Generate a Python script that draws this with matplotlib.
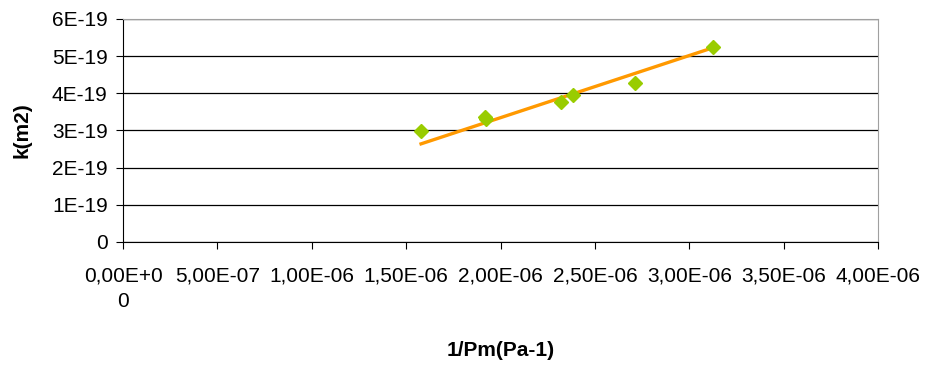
import numpy as np
import matplotlib.pyplot as plt

plt.rcParams['font.family'] = ['Liberation Sans', 'DejaVu Sans']

# data
inv_pm = [1.579e-6, 1.918e-6, 1.922e-6, 2.320e-6, 2.386e-6, 2.713e-6, 3.127e-6]
k_m2 = [2.99e-19, 3.36e-19, 3.31e-19, 3.77e-19, 3.955e-19, 4.27e-19, 5.24e-19]
x_ticks = [0, 5e-7, 1e-6, 1.5e-6, 2e-6, 2.5e-6, 3e-6, 3.5e-6, 4e-6]
x_labels = ['0,00E+0\n0', '5,00E-07', '1,00E-06', '1,50E-06', '2,00E-06',
            '2,50E-06', '3,00E-06', '3,50E-06', '4,00E-06']
y_ticks = [0, 1e-19, 2e-19, 3e-19, 4e-19, 5e-19, 6e-19]
y_labels = ['0', '1E-19', '2E-19', '3E-19', '4E-19', '5E-19', '6E-19']

fig = plt.figure(figsize=(9.27, 3.65), dpi=100)
ax = fig.add_axes([0.1327, 0.337, 0.8145, 0.611])

# linear trend line, intercept fixed at 0
x = np.array(inv_pm)
y = np.array(k_m2)
slope = np.sum(x * y) / np.sum(x * x)
xl = np.array([x.min(), x.max()])
ax.plot(xl, slope * xl, color='#FF9900', lw=2.4, zorder=3)
ax.plot(x, y, 'D', color='#99CC00', ms=7.5, mec='#99CC00', ls='none', zorder=4)

ax.set_xlim(0, 4e-6)
ax.set_ylim(0, 6e-19)
ax.set_xticks(x_ticks)
ax.set_xticklabels(x_labels, fontsize=15, linespacing=1.47)
ax.set_yticks(y_ticks)
ax.set_yticklabels(y_labels, fontsize=15)
ax.tick_params(axis='x', length=5, pad=12.5, color='black')
ax.tick_params(axis='y', length=5, pad=6, color='black')
ax.grid(axis='y', color='black', lw=0.9)
ax.set_axisbelow(True)

for s in ['top', 'right']:
    ax.spines[s].set_color('#A0A0A0')
for s in ['left', 'bottom']:
    ax.spines[s].set_color('black')

ax.set_xlabel('1/Pm(Pa-1)', fontsize=15, fontweight='bold', labelpad=21)
ax.set_ylabel('k(m2)', fontsize=15, fontweight='bold', labelpad=15)

fig.savefig('out.png', dpi=100)
